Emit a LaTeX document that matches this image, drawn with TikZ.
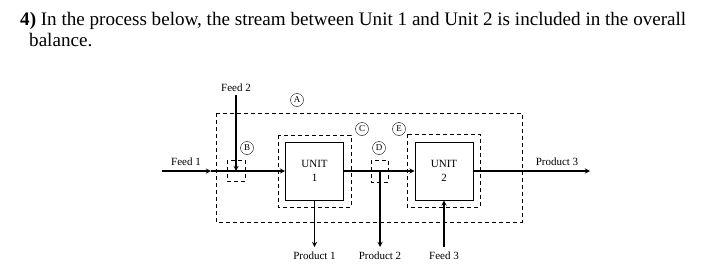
\documentclass[tikz,border=0pt]{standalone}
\usepackage{fontspec}
\setmainfont{Liberation Serif}
\usetikzlibrary{arrows}

\tikzset{
  unitbox/.style={draw, thick, minimum width=58pt, minimum height=58pt, inner sep=0pt, align=center, font=\fontsize{11}{14}\selectfont},
  envelope/.style={draw, dashed, semithick, dash pattern=on 4pt off 3pt},
  stream/.style={-stealth, line width=1.3pt},
  tag/.style={font=\fontsize{11}{12}\selectfont, inner sep=1pt},
  letter/.style={draw, circle, inner sep=0pt, minimum size=13pt, font=\fontsize{9}{10}\selectfont}
}

\begin{document}
\begin{tikzpicture}[x=1pt, y=-1pt, >=stealth]
        \useasboundingbox (0,0) rectangle (703,273);

        % question text
        \node[anchor=base west, inner sep=0pt, font=\fontsize{19.1}{22}\selectfont] (q1) at (20,25) {\textbf{4)} In the process below, the stream between Unit 1 and Unit 2 is included in the overall};
        \node[anchor=base west, inner sep=0pt, font=\fontsize{19.1}{22}\selectfont] (q2) at (29,46) {balance.};

        % balance envelopes
        \draw[envelope] (216,113) rectangle (522,222);
        \draw[envelope] (278,135) rectangle (351,207);
        \draw[envelope] (407,134) rectangle (480,207);
        \draw[envelope] (227,160) rectangle (245,181);
        \draw[envelope] (371,160) rectangle (388,182);

        \node[letter] (A) at (297,100) {A};
        \node[letter] (B) at (247,148) {B};
        \node[letter] (C) at (362,129) {C};
        \node[letter] (D) at (379,148) {D};
        \node[letter] (E) at (399,129) {E};

        % units
        \node[unitbox] (u1) at (314.5,171) {UNIT\\1};
        \node[unitbox] (u2) at (444,171) {UNIT\\2};

        % stream ends
        \coordinate (f1) at (162,171);
        \coordinate (m1) at (211,171);
        \coordinate (f2) at (236,95);
        \coordinate (j2) at (236,171);
        \coordinate (j4) at (380,171);
        \coordinate (p1) at (314.5,247);
        \coordinate (p2) at (380,247);
        \coordinate (f3) at (444,247);
        \coordinate (p3) at (590,171);

        % streams
        \draw[stream] (f1) -- (m1);
        \draw[stream] (m1) -- (u1.west);
        \draw[stream] (f2) -- (j2);
        \draw[stream] (u1.east) -- (u2.west);
        \draw[stream] (u1.south) -- (p1);
        \draw[stream] (j4) -- (p2);
        \draw[stream] (f3) -- (u2.south);
        \draw[stream] (u2.east) -- (p3);

        % labels
        \node[tag, above=4pt] at (186,171) {Feed 1};
        \node[tag, above=2pt] at (f2) {Feed 2};
        \node[tag, above=4pt] at (557,171) {Product 3};
        \node[tag, below=4pt] at (p1) {Product 1};
        \node[tag, below=4pt] at (p2) {Product 2};
        \node[tag, below=4pt] at (f3) {Feed 3};
\end{tikzpicture}
\end{document}
